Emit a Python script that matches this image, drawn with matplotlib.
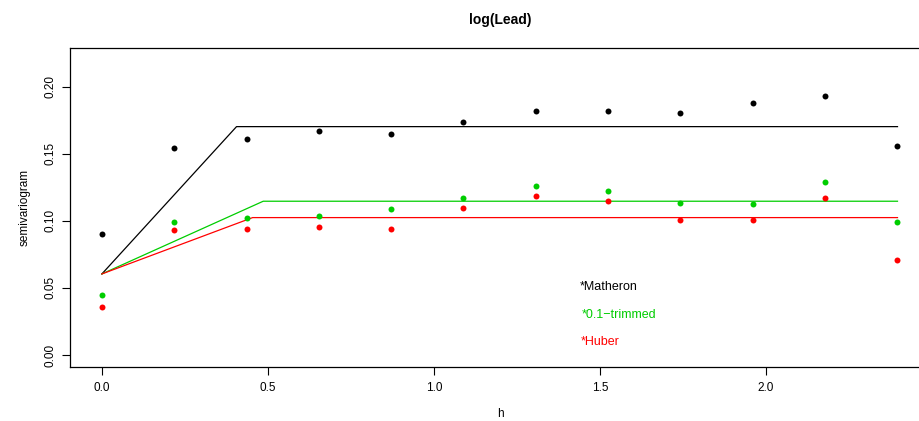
import matplotlib
matplotlib.use("Agg")
import matplotlib.pyplot as plt

plt.rcParams['font.family'] = ['Liberation Sans', 'DejaVu Sans']

# Data
h = [0.0, 0.218, 0.436, 0.653, 0.871, 1.089, 1.307, 1.525, 1.742, 1.960, 2.178, 2.396]
matheron = [0.0902, 0.1543, 0.1608, 0.1670, 0.1650, 0.1735, 0.1819, 0.1819, 0.1804, 0.1878, 0.1931, 0.1556]
trimmed = [0.0445, 0.0991, 0.1019, 0.1039, 0.1088, 0.1173, 0.1262, 0.1225, 0.1131, 0.1128, 0.1290, 0.0991]
huber = [0.0360, 0.0932, 0.0939, 0.0957, 0.0937, 0.1098, 0.1183, 0.1146, 0.1009, 0.1009, 0.1168, 0.0706]

# fitted linear-sill models: nugget, sill, range
model_names = ["*Matheron", "*0.1\u2212trimmed", "*Huber"]
nuggets = [0.0604, 0.0604, 0.0604]
sills = [0.1702, 0.1146, 0.1024]
ranges = [0.4055, 0.4859, 0.4539]
colors = ["#000000", "#00CD00", "#FF0000"]

xticks = [0.0, 0.5, 1.0, 1.5, 2.0]
yticks = [0.00, 0.05, 0.10, 0.15, 0.20]

fig = plt.figure(figsize=(9.19, 4.21), dpi=100)
ax = fig.add_axes([70/919, 54.2/421, 860.7/919, 318.8/421])

series = [matheron, trimmed, huber]
for vals, col in zip(series, colors):
    ax.plot(h, vals, 'o', color=col, ms=4.3, mec='none', zorder=3)

hmax = h[-1]
for n, s, r, col in zip(nuggets, sills, ranges, colors):
    ax.plot([0, r, hmax], [n, s, s], '-', color=col, lw=0.9, zorder=2)

text_y = [0.0507, 0.0298, 0.0097]
text_x = [1.44, 1.446, 1.443]
for name, tx, ty, col in zip(model_names, text_x, text_y, colors):
    ax.text(tx, ty, name, color=col, fontsize=9, ha='left', va='center')

ax.set_xlim(-0.096, 2.496)
ax.set_ylim(-0.0088, 0.2288)
ax.set_xticks(xticks)
ax.set_xticklabels([f"{v:.1f}" for v in xticks])
ax.set_yticks(yticks)
ax.set_yticklabels([f"{v:.2f}" for v in yticks], rotation=90, va='center')
ax.tick_params(axis='both', direction='out', length=6, width=0.8, labelsize=8.5, pad=5)
ax.tick_params(axis='y', pad=4)
ax.spines['right'].set_visible(False)
for sp in ['left', 'bottom', 'top']:
    ax.spines[sp].set_linewidth(0.9)

ax.set_xlabel("h", fontsize=8.5, labelpad=10)
ax.set_ylabel("semivariogram", fontsize=8.5, labelpad=10)
fig.text(500/919, 1 - 20/421, "log(Lead)", ha='center', va='center', fontsize=10, fontweight='bold')

fig.savefig("out.png", dpi=100)
